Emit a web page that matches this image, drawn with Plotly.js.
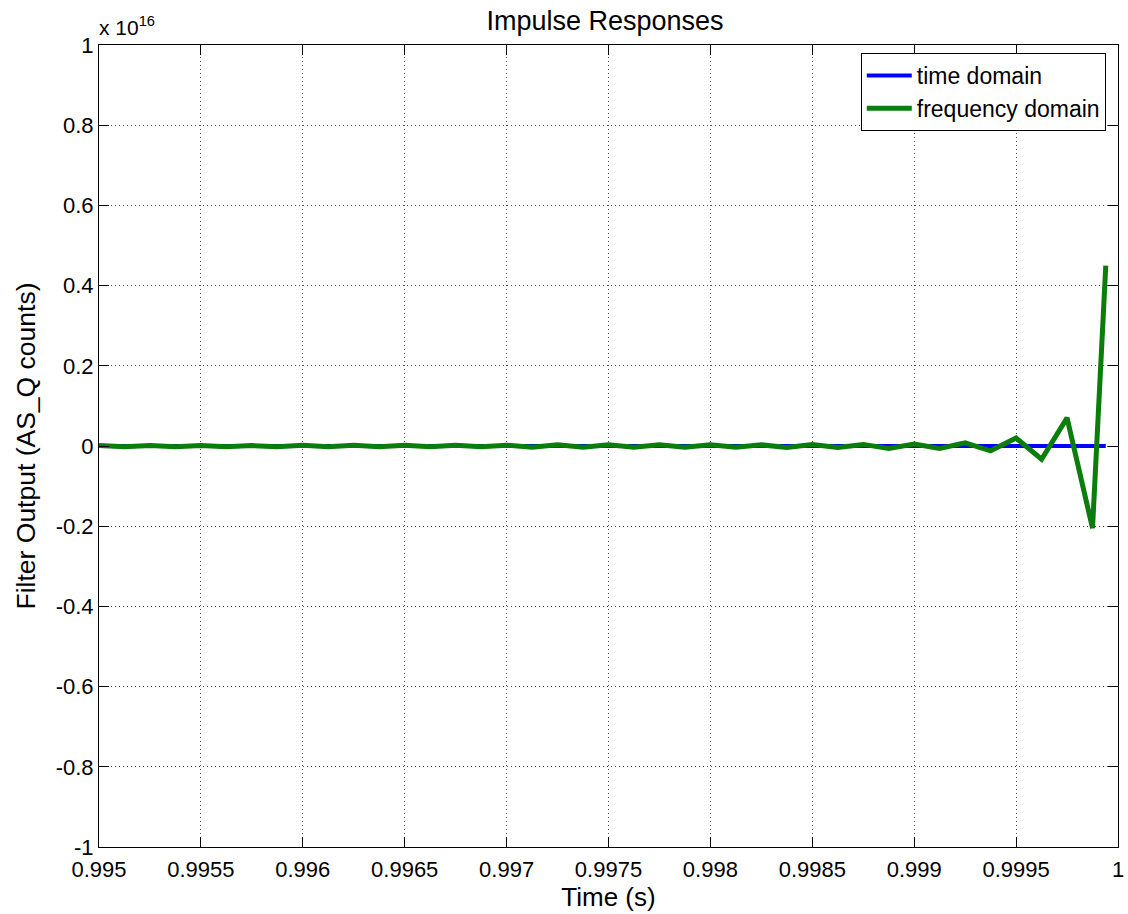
<!DOCTYPE html>
<html>
<head>
<meta charset="utf-8">
<script src="https://cdn.plot.ly/plotly-3.0.1.min.js"></script>
<style>html,body{margin:0;padding:0;background:#fff;}#chart{width:1128px;height:914px;}</style>
</head>
<body>
<div id="chart"></div>
<script>
// Time samples (s)
const timeS = [
  0.995, 0.995125, 0.99525, 0.995375, 0.9955, 0.995625, 0.99575, 0.995875,
  0.996, 0.996125, 0.99625, 0.996375, 0.9965, 0.996625, 0.99675, 0.996875,
  0.997, 0.997125, 0.99725, 0.997375, 0.9975, 0.997625, 0.99775, 0.997875,
  0.998, 0.998125, 0.99825, 0.998375, 0.9985, 0.998625, 0.99875, 0.998875,
  0.999, 0.999125, 0.99925, 0.999375, 0.9995, 0.999625, 0.99975, 0.999875,
  0.99994
];
// Filter output, in units of 1e16 counts
const timeDomain = [
  0, 0, 0, 0, 0, 0, 0, 0,
  0, 0, 0, 0, 0, 0, 0, 0,
  0, 0, 0, 0, 0, 0, 0, 0,
  0, 0, 0, 0, 0, 0, 0, 0,
  0, 0, 0, 0, 0, 0, 0, 0,
  0
];
const freqDomain = [
  0.001, -0.002, 0.001, -0.002, 0.001, -0.002, 0.001, -0.002,
  0.002, -0.002, 0.002, -0.002, 0.002, -0.002, 0.002, -0.002,
  0.002, -0.003, 0.003, -0.003, 0.003, -0.003, 0.003, -0.003,
  0.003, -0.003, 0.003, -0.004, 0.004, -0.004, 0.004, -0.006,
  0.005, -0.006, 0.008, -0.012, 0.02, -0.033, 0.07, -0.205,
  0.45
];
const xTickVals = [0.995, 0.9955, 0.996, 0.9965, 0.997, 0.9975, 0.998, 0.9985, 0.999, 0.9995, 1.0];
const xTickText = ["0.995", "0.9955", "0.996", "0.9965", "0.997", "0.9975", "0.998", "0.9985", "0.999", "0.9995", "1"];
const yTickVals = [-1, -0.8, -0.6, -0.4, -0.2, 0, 0.2, 0.4, 0.6, 0.8, 1];
const yTickText = ["-1", "-0.8", "-0.6", "-0.4", "-0.2", "0", "0.2", "0.4", "0.6", "0.8", "1"];
const seriesNames = ["time domain", "frequency domain"];

const FONT = "Liberation Sans, Arial, Helvetica, sans-serif";

const traces = [
  {x: timeS, y: timeDomain, type: "scatter", mode: "lines", name: seriesNames[0],
   line: {color: "#0000ff", width: 4}},
  {x: timeS, y: freqDomain, type: "scatter", mode: "lines", name: seriesNames[1],
   line: {color: "#0a7d0a", width: 5}}
];

const axisCommon = {
  showline: true, linecolor: "#000", linewidth: 1, mirror: "ticks",
  ticks: "inside", ticklen: 10, tickwidth: 1, tickcolor: "#000",
  showgrid: true, gridcolor: "#555", gridwidth: 1, griddash: "1px,3px",
  zeroline: false, tickfont: {family: FONT, size: 22, color: "#000"},
  tickmode: "array"
};

const layout = {
  width: 1128, height: 914,
  margin: {l: 99, r: 10, t: 45, b: 67},
  paper_bgcolor: "#fff", plot_bgcolor: "#fff",
  font: {family: FONT, color: "#000"},
  title: {text: "Impulse Responses", font: {family: FONT, size: 27, color: "#000"},
          x: 0.4966, xanchor: "center", xref: "paper", y: 0.977, yanchor: "middle", yref: "container"},
  xaxis: Object.assign({}, axisCommon, {
    range: [0.995, 1.0], tickvals: xTickVals, ticktext: xTickText, ticklabelstandoff: 3,
    title: {text: "Time (s)", font: {family: FONT, size: 26, color: "#000"}, standoff: 6}
  }),
  yaxis: Object.assign({}, axisCommon, {
    range: [-1, 1], tickvals: yTickVals, ticktext: yTickText,
    title: {text: "Filter Output (AS_Q counts)", font: {family: FONT, size: 26.5, color: "#000"}, standoff: 12}
  }),
  legend: {x: 0.988, xanchor: "right", y: 0.99, yanchor: "top",
           bgcolor: "#fff", bordercolor: "#000", borderwidth: 1, itemwidth: 45,
           font: {family: FONT, size: 23, color: "#000"}},
  showlegend: true,
  annotations: [{
    text: "x 10<sup>16</sup>", xref: "paper", yref: "paper", x: 0, y: 1,
    xanchor: "left", yanchor: "bottom", showarrow: false, yshift: 4, xshift: -2,
    font: {family: FONT, size: 21, color: "#000"}
  }]
};

Plotly.newPlot("chart", traces, layout, {displayModeBar: false, staticPlot: true});
</script>
</body>
</html>
